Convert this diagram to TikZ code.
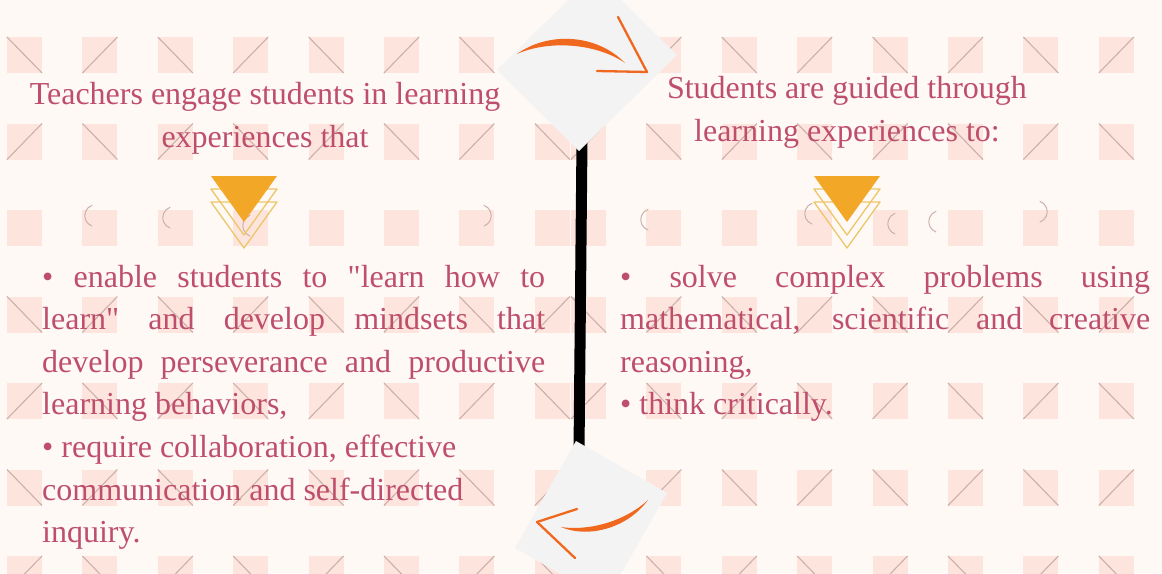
\documentclass[tikz,border=0pt]{standalone}
\usepackage{fontspec}
\setmainfont{Liberation Serif}[Ligatures=TeXOff]
\usepackage{tikz}

\definecolor{cream}{RGB}{254,249,245}
\definecolor{tilepink}{RGB}{253,229,222}
\definecolor{hatchgray}{RGB}{204,176,170}
\definecolor{plategray}{RGB}{243,243,244}
\definecolor{brushorange}{RGB}{240,104,30}
\definecolor{wedgeorange}{RGB}{243,167,38}
\definecolor{wedgegold}{RGB}{236,198,104}
\definecolor{rosetext}{RGB}{190,78,108}

\tikzstyle{tile}=[fill=tilepink]
\tikzstyle{hatch}=[draw=hatchgray, line width=1.1pt]
\tikzstyle{scribble}=[draw=hatchgray, line width=1pt, line cap=round]
\tikzstyle{plate}=[fill=plategray]
\tikzstyle{brush}=[fill=brushorange]
\tikzstyle{barb}=[draw=brushorange, line width=2.3pt, line cap=round]
\tikzstyle{wedge}=[fill=wedgeorange]
\tikzstyle{wedgeline}=[draw=wedgegold, line width=1.3pt, line join=round]
\tikzstyle{heading}=[anchor=base, inner sep=0pt, text=rosetext, font=\fontsize{32}{43}\selectfont]
\tikzstyle{body}=[anchor=base west, inner sep=0pt, text=rosetext, font=\fontsize{32}{42.6}\selectfont]

% stretch one line of a list to the full column width
\newcommand{\fitline}[1]{\makebox[\linewidth][s]{#1}}

\begin{document}
\begin{tikzpicture}[x=1pt, y=-1pt]
		\useasboundingbox (0,0) rectangle (1162,573);
		\fill[cream] (0,0) rectangle (1162,573);
		% tiled backdrop: row, slant of its first tile (2 = no slant)
		\foreach \row/\slant in {0/0,1/1,2/2,3/0,4/1,5/0,6/1} {
			\foreach \x in {7,571} {
				\foreach \col in {0,...,7} {
					\pgfmathsetmacro{\tx}{\x+75.4*\col}
					\pgfmathsetmacro{\ty}{37+86.5*\row}
					\fill[tile] (\tx,\ty) rectangle ++(35,36);
					\ifnum\slant<2
						\pgfmathtruncatemacro{\way}{mod(\slant+\col,2)}
						\ifnum\way=0
							\draw[hatch] (\tx,\ty) -- ++(35,36);
						\else
							\draw[hatch] (\tx,\ty+36) -- ++(35,-36);
						\fi
					\fi
				}
			}
		}
		\foreach \sx/\sy in {92/226,170/228,250/236,648/230,812/224,895/234,936/232}
			\draw[scribble] (\sx,\sy) arc[start angle=110, end angle=250, radius=11];
		\foreach \sx/\sy in {484/226,1040/222}
			\draw[scribble] (\sx,\sy) arc[start angle=70, end angle=-70, radius=11];

		% spine and the two plates
		\draw[line width=11pt] (582,140) -- (579,452);
		\fill[plate] (497,70) -- (579,151) -- (677,55) -- (595,-26) -- cycle;
		\fill[plate] (576,441) -- (667,493) -- (606,600) -- (515,548) -- cycle;

		% swoosh arrows
		\fill[brush] (517,54) .. controls (547,32) and (596,33) .. (625,63)
			.. controls (596,43) and (548,40) .. (517,54) -- cycle;
		\coordinate (toptip) at (647,72);
		\draw[barb] (toptip) -- (618,17);
		\draw[barb] (toptip) -- (597,71);
		\fill[brush] (648,500) .. controls (626,530) and (586,538) .. (561,527)
			.. controls (586,531) and (623,523) .. (648,500) -- cycle;
		\coordinate (bottip) at (537,522);
		\draw[barb] (bottip) -- (577,509);
		\draw[barb] (bottip) -- (575,558);

		% stacked triangles
		\foreach \cx in {244,847} {
			\foreach \dy in {26,13}
				\draw[wedgeline] (\cx-33,176+\dy) -- (\cx+33,176+\dy) -- (\cx,222+\dy) -- cycle;
			\fill[wedge] (\cx-33,176) -- (\cx+33,176) -- (\cx,222) -- cycle;
		}

		\node[heading] (teachhead) at (265,104) {\parbox[t]{480pt}{\centering
			Teachers engage students in learning\\ experiences that}};
		\node[heading] (studhead) at (847,98) {\parbox[t]{480pt}{\centering
			Students are guided through\\ learning experiences to:}};
		\node[body] (teachlist) at (42,287) {\parbox[t]{503pt}{%
			\fitline{• enable students to "learn how to}\\
			\fitline{learn" and develop mindsets that}\\
			\fitline{develop perseverance and productive}\\
			learning behaviors,\\
			• require collaboration, effective\\
			communication and self-directed\\
			inquiry.}};
		\node[body] (studlist) at (620,287) {\parbox[t]{530pt}{%
			\fitline{• solve complex problems using}\\
			\fitline{mathematical, scientific and creative}\\
			reasoning,\\
			• think critically.}};
	\end{tikzpicture}
\end{document}
